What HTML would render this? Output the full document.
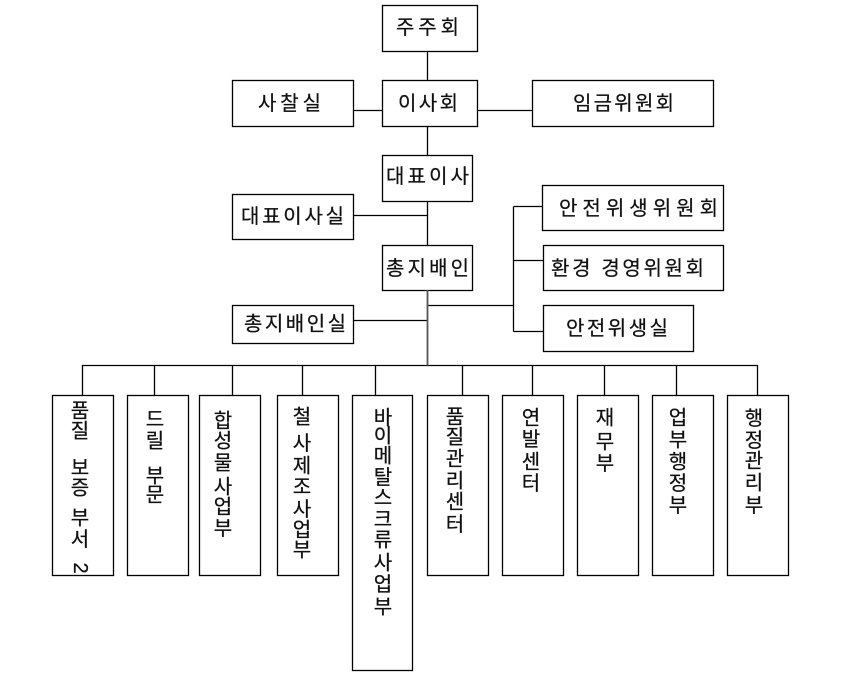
<!DOCTYPE html>
<html><head><meta charset="utf-8"><style>
html,body{margin:0;padding:0;background:#fff;}
svg{display:block;}
text{font-family:"Liberation Sans","Noto Sans CJK KR","NanumGothic",sans-serif;font-size:20px;fill:#111;stroke:#111;stroke-width:0.25;dominant-baseline:central;}
.v{text-anchor:middle;}
</style></head><body>
<svg width="848" height="675" viewBox="0 0 848 675" xmlns="http://www.w3.org/2000/svg">
<g fill="none" stroke="#000" stroke-width="1.3">
<!-- top boxes -->
<rect x="382.5" y="5.5" width="95" height="46"/>
<rect x="382.5" y="80.5" width="95" height="46"/>
<rect x="232.5" y="80.5" width="121" height="46"/>
<rect x="532.5" y="80.5" width="181" height="46"/>
<rect x="382.5" y="155.5" width="90" height="46"/>
<rect x="232.5" y="194.5" width="121" height="45"/>
<rect x="382.5" y="245.5" width="90" height="45"/>
<rect x="232.5" y="305.5" width="121" height="38"/>
<rect x="542.5" y="185.5" width="181" height="45"/>
<rect x="543.5" y="245.5" width="180" height="45"/>
<rect x="543.5" y="305.5" width="150" height="46"/>
<!-- bottom boxes -->
<rect x="52.5" y="395.5" width="61" height="180"/>
<rect x="127.5" y="395.5" width="61" height="180"/>
<rect x="199.5" y="395.5" width="61" height="180"/>
<rect x="277.5" y="395.5" width="61" height="180"/>
<rect x="352.5" y="395.5" width="60" height="275"/>
<rect x="427.5" y="395.5" width="61" height="180"/>
<rect x="502.5" y="395.5" width="61" height="180"/>
<rect x="577.5" y="395.5" width="61" height="180"/>
<rect x="652.5" y="395.5" width="61" height="180"/>
<rect x="727.5" y="395.5" width="61" height="180"/>
<!-- connectors -->
<path d="M427.5 51V80 M427.5 126V155 M427.5 201V245 M353 110.5H382 M477 110.5H532 M353 215.5H427.5 M353 320.5H427.5 M427.5 305.5H513.5 M513.5 206.5V331.5 M513.5 206.5H542 M513.5 260.5H543 M513.5 331.5H543 M82.5 365.5H757.5"/>
<path d="M427.5 290V365.5" stroke="#555" stroke-width="1.8"/>
<path d="M82.5 365V395 M154.5 365V395 M232.5 365V395 M302.5 365V395 M375.5 365V395 M462.5 365V395 M532.5 365V395 M604.5 365V395 M676.5 365V395 M757.5 365V395"/>
</g>
<!-- horizontal labels -->
<text x="396" y="28" textLength="63" lengthAdjust="spacing">주주회</text>
<text x="398" y="104" textLength="60" lengthAdjust="spacing">이사회</text>
<text x="258" y="104" textLength="63" lengthAdjust="spacing">사찰실</text>
<text x="573" y="104" textLength="101" lengthAdjust="spacing">임금위원회</text>
<text x="386" y="177" textLength="83" lengthAdjust="spacing">대표이사</text>
<text x="241" y="217" textLength="103" lengthAdjust="spacing">대표이사실</text>
<text x="386" y="269" textLength="83" lengthAdjust="spacing">총지배인</text>
<text x="244" y="324.5" textLength="102" lengthAdjust="spacing">총지배인실</text>
<text x="559" y="209" textLength="159" lengthAdjust="spacing">안전위생위원회</text>
<text x="551" y="269" textLength="153" lengthAdjust="spacing">환경 경영위원회</text>
<text x="566" y="329" textLength="102" lengthAdjust="spacing">안전위생실</text>
<!-- vertical labels -->
<g class="v">
<text class="v" x="80" y="411.5">품</text><text class="v" x="80" y="431.5">질</text><text class="v" x="80" y="468.5">보</text><text class="v" x="80" y="488.5">증</text><text class="v" x="80" y="518.5">부</text><text class="v" x="80" y="540">서</text><text class="v" x="80" y="568" transform="rotate(90 80 568)">2</text>
<text class="v" x="155" y="420">드</text><text class="v" x="155" y="441.5">릴</text><text class="v" x="155" y="476.5">부</text><text class="v" x="155" y="495.5">문</text>
<text class="v" x="223" y="421.5">합</text><text class="v" x="223" y="441.5">성</text><text class="v" x="223" y="463.5">물</text><text class="v" x="223" y="487.5">사</text><text class="v" x="223" y="507.5">업</text><text class="v" x="223" y="529">부</text>
<text class="v" x="302" y="417.5">철</text><text class="v" x="302" y="444">사</text><text class="v" x="302" y="466.5">제</text><text class="v" x="302" y="487.5">조</text><text class="v" x="302" y="510">사</text><text class="v" x="302" y="530.5">업</text><text class="v" x="302" y="550.5">부</text>
<text class="v" x="383" y="418.5">바</text><text class="v" x="383" y="436.5">이</text><text class="v" x="383" y="456.5">메</text><text class="v" x="383" y="478">탈</text><text class="v" x="383" y="498.5">스</text><text class="v" x="383" y="520">크</text><text class="v" x="383" y="540.5">류</text><text class="v" x="383" y="563.5">사</text><text class="v" x="383" y="585">업</text><text class="v" x="383" y="607.5">부</text>
<text class="v" x="455" y="417.5">품</text><text class="v" x="455" y="437.5">질</text><text class="v" x="455" y="459.5">관</text><text class="v" x="455" y="481.5">리</text><text class="v" x="455" y="502.5">센</text><text class="v" x="455" y="525">터</text>
<text class="v" x="531" y="418.5">연</text><text class="v" x="531" y="440">발</text><text class="v" x="531" y="462.5">센</text><text class="v" x="531" y="484">터</text>
<text class="v" x="605" y="418.5">재</text><text class="v" x="605" y="442.5">무</text><text class="v" x="605" y="464">부</text>
<text class="v" x="678" y="418.5">업</text><text class="v" x="678" y="440.5">부</text><text class="v" x="678" y="462.5">행</text><text class="v" x="678" y="484">정</text><text class="v" x="678" y="506">부</text>
<text class="v" x="754" y="419">행</text><text class="v" x="754" y="441">정</text><text class="v" x="754" y="461.5">관</text><text class="v" x="754" y="483.5">리</text><text class="v" x="754" y="506">부</text>
</g>
</svg>
</body></html>
